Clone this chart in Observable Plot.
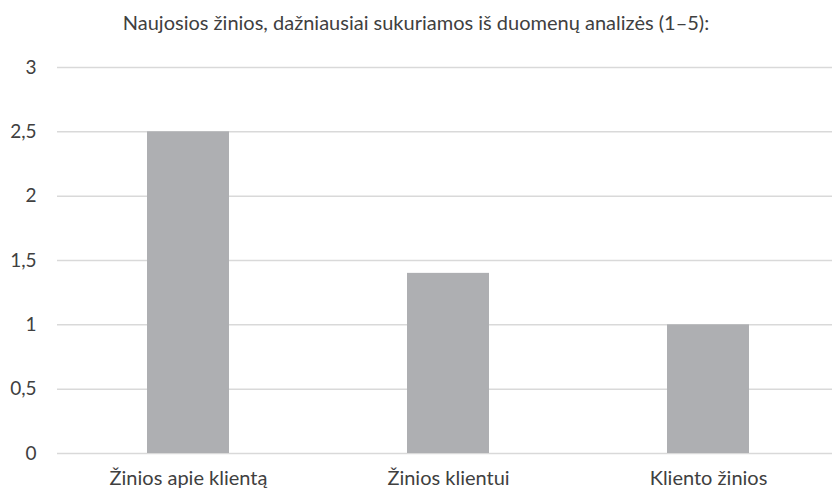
<!DOCTYPE html>
<html>
<head>
<meta charset="utf-8">
<script src="https://cdn.jsdelivr.net/npm/d3@7"></script>
<script src="https://cdn.jsdelivr.net/npm/@observablehq/plot@0.6"></script>
<style>
  html, body { margin: 0; padding: 0; background: #fff; }
  #title { height: 45px; line-height: 45px; text-align: center; font-family: Lato, sans-serif; font-size: 20px; color: #404040; width: 832px; }
  #chart svg { display: block; }
</style>
</head>
<body>
<div id="title">Naujosios žinios, dažniausiai sukuriamos iš duomenų analizės (1–5):</div>
<div id="chart"></div>
<script>
const categories = ["Žinios apie klientą", "Žinios klientui", "Kliento žinios"];
const values = [2.5, 1.4, 1.0];
const yTicks = [0, 0.5, 1, 1.5, 2, 2.5, 3];

const data = categories.map((c, i) => ({category: c, value: values[i]}));

const chart = Plot.plot({
  width: 832,
  height: 445,
  marginLeft: 57,
  marginRight: 0,
  marginTop: 22,
  marginBottom: 37,
  style: {fontFamily: "Lato, sans-serif", fontSize: "20px", color: "#404040", background: "#fff"},
  x: {domain: categories, range: [57, 838.5], paddingInner: 0.685, paddingOuter: 0.3425, label: null},
  y: {domain: [0, 3], label: null},
  marks: [
    Plot.gridY(yTicks, {stroke: "#d9d9d9", strokeOpacity: 1, strokeWidth: 1.5}),
    Plot.barY(data, {x: "category", y: "value", fill: "#aeafb2"}),
    Plot.axisY(yTicks, {tickSize: 0, tickPadding: 21, tickFormat: d => String(d).replace(".", ","), fontSize: 19, label: null}),
    Plot.axisX({tickSize: 0, tickPadding: 17, fontSize: 20, label: null})
  ]
});
document.getElementById("chart").appendChild(chart);
</script>
</body>
</html>
